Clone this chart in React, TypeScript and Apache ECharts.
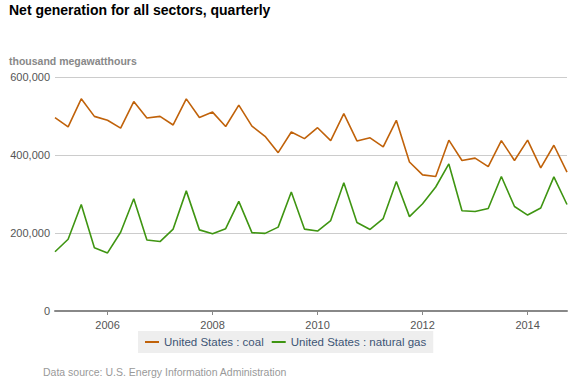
import React, { useEffect, useRef } from "react";
import * as echarts from "echarts";

const years = [2005, 2006, 2007, 2008, 2009, 2010, 2011, 2012, 2013, 2014];
const quarters = ["Q1", "Q2", "Q3", "Q4"];
const categories: string[] = [];
years.forEach((y) => quarters.forEach((q) => categories.push(`${y} ${q}`)));

const coal = [
  496, 472, 544, 499, 489, 469, 537, 495, 499, 477,
  544, 496, 510, 473, 528, 474, 448, 406, 459, 442,
  470, 437, 506, 436, 444, 421, 489, 382, 349, 345,
  438, 386, 392, 370, 437, 386, 438, 367, 425, 356,
].map((v) => v * 1000);

const gas = [
  152, 184, 273, 162, 149, 202, 288, 182, 178, 210,
  308, 208, 198, 211, 281, 201, 199, 215, 305, 210,
  205, 232, 329, 227, 209, 237, 332, 242, 275, 318,
  377, 257, 255, 263, 345, 268, 246, 264, 344, 273,
].map((v) => v * 1000);

const yTicks = [0, 200000, 400000, 600000];

export default function App() {
  const ref = useRef<HTMLDivElement>(null);
  useEffect(() => {
    if (!ref.current) return;
    const chart = echarts.init(ref.current, null, { renderer: "svg" });
    const yearTick = (i: number) => i % 8 === 4;
    chart.setOption({
      animation: false,
      textStyle: { fontFamily: "'Liberation Sans', Arial, sans-serif" },
      title: [
        {
          text: "Net generation for all sectors, quarterly",
          left: 9,
          top: 3,
          padding: 0,
          textStyle: { fontSize: 14, fontWeight: "bold", color: "#000" },
        },
        {
          text: "thousand megawatthours",
          left: 9,
          top: 55,
          padding: 0,
          textStyle: { fontSize: 10.5, fontWeight: "bold", color: "#888" },
        },
        {
          text: "Data source: U.S. Energy Information Administration",
          left: 43,
          top: 366,
          padding: 0,
          textStyle: { fontSize: 10.5, fontWeight: "normal", color: "#999" },
        },
      ],
      grid: { left: 55, right: 9, top: 77, bottom: 73, containLabel: false },
      legend: {
        left: 138,
        top: 331,
        backgroundColor: "#eeeeee",
        padding: [5, 7, 5, 7],
        itemWidth: 14,
        itemHeight: 2,
        itemGap: 8,
        icon: "rect",
        textStyle: { color: "#3d5575", fontSize: 11.5 },
        data: ["United States : coal", "United States : natural gas"],
      },
      xAxis: {
        type: "category",
        data: categories,
        boundaryGap: false,
        axisLine: { lineStyle: { color: "#888", width: 2 } },
        axisTick: {
          interval: (i: number) => yearTick(i),
          length: 4,
          lineStyle: { color: "#888" },
        },
        axisLabel: {
          interval: (i: number) => yearTick(i),
          formatter: (v: string) => v.slice(0, 4),
          color: "#555",
          fontSize: 11,
          margin: 8,
        },
        splitLine: { show: false },
      },
      yAxis: {
        type: "value",
        min: yTicks[0],
        max: yTicks[yTicks.length - 1],
        interval: 200000,
        axisLine: { show: false },
        axisTick: { show: false },
        axisLabel: {
          color: "#555",
          fontSize: 11,
          margin: 5,
          formatter: (v: number) => v.toLocaleString("en-US"),
        },
        splitLine: { lineStyle: { color: "#cccccc", width: 1 } },
      },
      series: [
        {
          name: "United States : coal",
          type: "line",
          data: coal,
          symbol: "none",
          lineStyle: { color: "#c0620a", width: 1.6 },
          itemStyle: { color: "#c0620a" },
        },
        {
          name: "United States : natural gas",
          type: "line",
          data: gas,
          symbol: "none",
          lineStyle: { color: "#3f9512", width: 1.6 },
          itemStyle: { color: "#3f9512" },
        },
      ],
    });
    return () => chart.dispose();
  }, []);
  return <div ref={ref} style={{ width: 576, height: 384, position: "absolute", left: 0, top: 0 }} />;
}
